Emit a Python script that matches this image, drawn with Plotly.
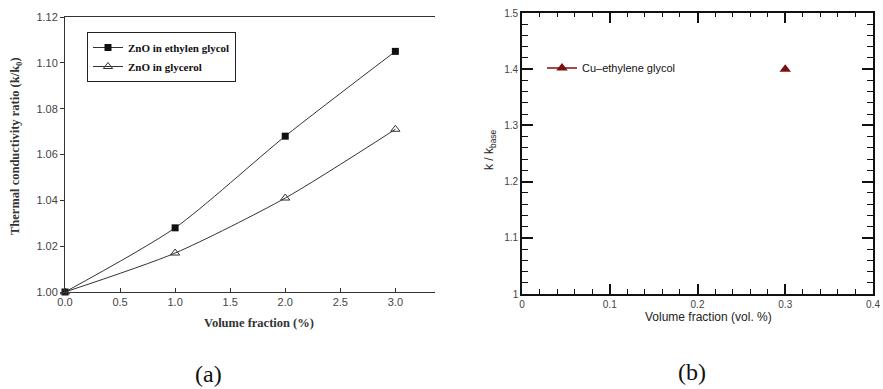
import plotly.graph_objects as go

W, H = 883, 389

# ---- data (panel a) ----
vol_a = [0.0, 1.0, 2.0, 3.0]
zno_eg = [1.000, 1.028, 1.068, 1.105]
zno_gly = [1.000, 1.017, 1.041, 1.071]
xt_a = [0.0, 0.5, 1.0, 1.5, 2.0, 2.5, 3.0]
xt_a_lbl = ["0.0", "0.5", "1.0", "1.5", "2.0", "2.5", "3.0"]
yt_a = [1.00, 1.02, 1.04, 1.06, 1.08, 1.10, 1.12]
yt_a_lbl = ["1.00", "1.02", "1.04", "1.06", "1.08", "1.10", "1.12"]

# ---- data (panel b) ----
vol_b = [0.3]
cu_eg = [1.40]
xt_b = [0, 0.1, 0.2, 0.3, 0.4]
xt_b_lbl = ["0", "0.1", "0.2", "0.3", "0.4"]
yt_b = [1.0, 1.1, 1.2, 1.3, 1.4, 1.5]
yt_b_lbl = ["1", "1.1", "1.2", "1.3", "1.4", "1.5"]

def px(x):
    return x / W

def py(y):
    return 1 - y / H

serif = "Liberation Serif, Times New Roman, serif"
sans = "Liberation Sans, Arial, sans-serif"

fig = go.Figure()

fig.add_trace(go.Scatter(
    x=vol_a, y=zno_eg, mode="lines+markers", name="ZnO in ethylen glycol",
    line=dict(color="#333333", width=1, shape="spline", smoothing=0.7),
    marker=dict(symbol="square", size=7, color="#111111"),
    xaxis="x", yaxis="y", legend="legend", cliponaxis=False))
fig.add_trace(go.Scatter(
    x=vol_a, y=zno_gly, mode="lines+markers", name="ZnO in glycerol",
    line=dict(color="#333333", width=1, shape="spline", smoothing=0.7),
    marker=dict(symbol="triangle-up-open", size=8, color="#333333", line=dict(width=1)),
    xaxis="x", yaxis="y", legend="legend", cliponaxis=False))

fig.add_trace(go.Scatter(
    x=vol_b, y=cu_eg, mode="lines+markers", name="Cu\u2013ethylene glycol",
    line=dict(color="#7a1010", width=1.5),
    marker=dict(symbol="triangle-up", size=10, color="#7a1010"),
    xaxis="x2", yaxis="y2", legend="legend2", cliponaxis=False))
# invisible companion trace so the mirrored (top/right) tick axes are drawn
fig.add_trace(go.Scatter(
    x=vol_b, y=cu_eg, mode="markers", marker=dict(opacity=0), showlegend=False,
    hoverinfo="skip", xaxis="x3", yaxis="y3"))

tickfont_a = dict(family=sans, size=11, color="#444444")
tickfont_b = dict(family=sans, size=10, color="#444444")
tc = "#111111"
minor_x = dict(tickmode="linear", tick0=0, dtick=0.02, ticks="inside", ticklen=5,
               tickwidth=1.3, tickcolor=tc, showgrid=False)
minor_y = dict(tickmode="linear", tick0=1.0, dtick=0.02, ticks="inside", ticklen=6,
               tickwidth=1.3, tickcolor=tc, showgrid=False)
dom_x2 = [px(522), px(873)]
dom_y2 = [py(294), py(13)]

fig.update_layout(
    width=W, height=H,
    margin=dict(l=0, r=0, t=0, b=0, pad=0),
    paper_bgcolor="white", plot_bgcolor="white",
    xaxis=dict(domain=[px(65), px(435)], range=[0, 3.36], anchor="y", automargin=False,
               tickvals=xt_a, ticktext=xt_a_lbl, ticks="inside", ticklen=4,
               tickcolor="#333333", showline=True, linecolor="#333333", linewidth=1,
               mirror=True, showgrid=False, zeroline=False, tickfont=tickfont_a),
    yaxis=dict(domain=[py(292), py(17)], range=[1.0, 1.12], anchor="x", automargin=False,
               tickvals=yt_a, ticktext=yt_a_lbl, ticks="outside", ticklen=4,
               tickcolor="#333333", showline=True, linecolor="#333333", linewidth=1,
               showgrid=False, zeroline=False, tickfont=tickfont_a),
    xaxis2=dict(domain=dom_x2, range=[0, 0.4], anchor="y2", automargin=False,
                tickvals=xt_b, ticktext=xt_b_lbl, ticks="inside", ticklen=10,
                tickwidth=1.6, tickcolor=tc, showline=True, linecolor=tc, linewidth=1.6,
                mirror=True, showgrid=False, zeroline=False, minor=minor_x,
                tickfont=tickfont_b),
    yaxis2=dict(domain=dom_y2, range=[1.0, 1.5], anchor="x2", automargin=False,
                tickvals=yt_b, ticktext=yt_b_lbl, ticks="inside", ticklen=11,
                tickwidth=1.6, tickcolor=tc, showline=True, linecolor=tc, linewidth=1.6,
                mirror=True, showgrid=False, zeroline=False, minor=minor_y,
                tickfont=tickfont_b),
    xaxis3=dict(domain=dom_x2, range=[0, 0.4], anchor="y2", overlaying="x2", side="top",
                automargin=False, tickvals=xt_b, showticklabels=False, ticks="inside",
                ticklen=10, tickwidth=1.6, tickcolor=tc, showline=False, showgrid=False,
                zeroline=False, minor=dict(minor_x, ticklen=4)),
    yaxis3=dict(domain=dom_y2, range=[1.0, 1.5], anchor="x2", overlaying="y2", side="right",
                automargin=False, tickvals=yt_b, showticklabels=False, ticks="inside",
                ticklen=11, tickwidth=1.6, tickcolor=tc, showline=False, showgrid=False,
                zeroline=False, minor=minor_y),
    legend=dict(x=px(87), y=py(32), xanchor="left", yanchor="top",
                bordercolor="#222222", borderwidth=1, bgcolor="rgba(255,255,255,0)",
                font=dict(family=serif, size=11, color="#111111", weight="bold"),
                itemwidth=30, tracegroupgap=0),
    legend2=dict(x=px(542), y=py(68), xanchor="left", yanchor="middle",
                 borderwidth=0, bgcolor="rgba(255,255,255,0)",
                 font=dict(family=sans, size=11, color="#111111"), itemwidth=30),
    showlegend=True,
)

annos = [
    dict(text="<b>Thermal conductivity ratio (k/k<sub>0</sub>)</b>", x=px(16), y=py(146),
         textangle=-90, font=dict(family=serif, size=12.5, color="#333333")),
    dict(text="<b>Volume fraction (%)</b>", x=px(259), y=py(323),
         font=dict(family=serif, size=12.5, color="#333333")),
    dict(text="k / k<sub>base</sub>", x=px(490), y=py(150), textangle=-90,
         font=dict(family=sans, size=12, color="#222222")),
    dict(text="Volume fraction (vol. %)", x=px(708), y=py(317),
         font=dict(family=sans, size=12, color="#222222")),
    dict(text="(a)", x=px(208), y=py(374), font=dict(family=serif, size=24, color="#111111")),
    dict(text="(b)", x=px(692), y=py(372), font=dict(family=serif, size=24, color="#111111")),
]
for a in annos:
    a.update(xref="paper", yref="paper", showarrow=False, xanchor="center", yanchor="middle")
fig.update_layout(annotations=annos)

fig.write_html("out.html", config={"displayModeBar": False},
               post_script="document.body.style.margin='0px';document.body.style.overflow='hidden';")
